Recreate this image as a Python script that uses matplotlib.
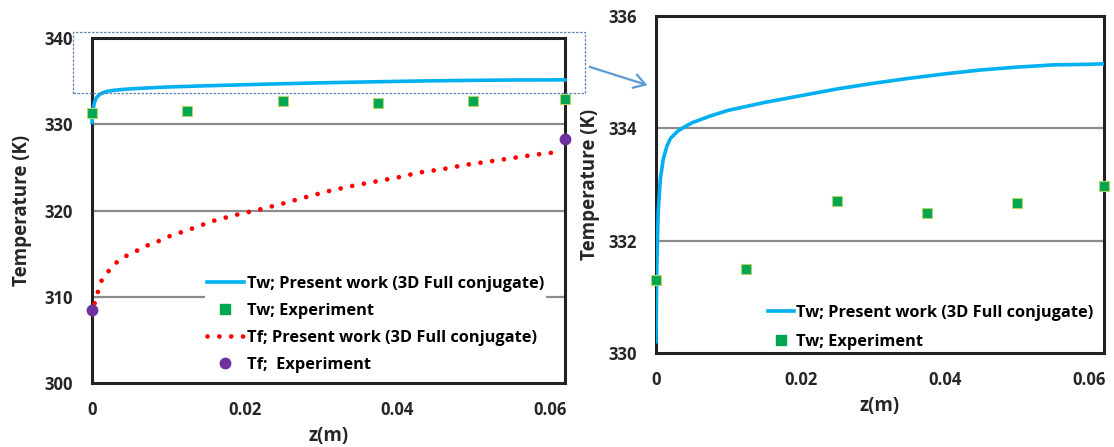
import matplotlib
matplotlib.use("Agg")
import matplotlib.pyplot as plt
from matplotlib.patches import Rectangle, FancyArrowPatch
from matplotlib.lines import Line2D

FONT = ['Open Sans', 'DejaVu Sans']
plt.rcParams['font.family'] = FONT
plt.rcParams['font.weight'] = 'bold'

# ---- data ----
z_tw = [0, 0.0001, 0.0003, 0.0006, 0.001, 0.0015, 0.002, 0.003, 0.004, 0.005,
        0.0075, 0.01, 0.015, 0.02, 0.025, 0.03, 0.035, 0.04, 0.045, 0.05,
        0.055, 0.06, 0.062]
tw_model = [330.2, 331.5, 332.5, 333.1, 333.45, 333.68, 333.82, 333.95, 334.03, 334.1,
            334.22, 334.32, 334.46, 334.58, 334.7, 334.8, 334.89, 334.97, 335.04, 335.09,
            335.13, 335.14, 335.15]

z_tf = [0, 0.00035, 0.00075, 0.0012, 0.0021, 0.0031, 0.0044, 0.0058, 0.0071, 0.0086,
        0.0101, 0.0131, 0.0159, 0.0189, 0.0219, 0.0250, 0.0278, 0.0308, 0.0338, 0.0368,
        0.0399, 0.0429, 0.0460, 0.0490, 0.0522, 0.0552, 0.0583, 0.0613]
tf_model = [307.9, 309.3, 310.5, 311.8, 312.9, 313.9, 314.7, 315.3, 315.9, 316.4,
            317.0, 317.9, 318.8, 319.5, 320.1, 320.8, 321.5, 322.2, 322.8, 323.3,
            323.8, 324.4, 324.8, 325.3, 325.7, 326.1, 326.5, 326.8]

z_exp = [0, 0.0125, 0.025, 0.0375, 0.05, 0.062]
tw_exp = [331.3, 331.5, 332.71, 332.5, 332.67, 332.98]

z_tf_exp = [0, 0.062]
tf_exp = [308.5, 328.3]

lab_tw_model = "Tw; Present work (3D Full conjugate)"
lab_tw_exp = "Tw; Experiment"
lab_tf_model = "Tf; Present work (3D Full conjugate)"
lab_tf_exp = "Tf;  Experiment"

xticks = [0, 0.02, 0.04, 0.06]
xticklabels = ["0", "0.02", "0.04", "0.06"]
left_yticks = [300, 310, 320, 330, 340]
right_yticks = [330, 332, 334, 336]

# ---- style ----
BLUE = '#00B0F0'
GREEN = '#00A651'
GREEN_EDGE = '#B5D56A'
RED = '#FF0000'
PURPLE = '#7030A0'
TXT = '#262626'
W, H = 1114, 447
FS = 12
LFS = 11.8

fig = plt.figure(figsize=(W / 100, H / 100), dpi=100)

def px(x0, y0, x1, y1):
    return [x0 / W, 1 - y1 / H, (x1 - x0) / W, (y1 - y0) / H]

axL = fig.add_axes(px(92, 38, 565, 383))
axR = fig.add_axes(px(656, 16, 1104, 353))

def style(ax, yticks):
    ax.set_xlim(0, 0.062)
    ax.set_ylim(yticks[0], yticks[-1])
    ax.set_xticks(xticks)
    ax.set_xticklabels(xticklabels)
    ax.set_yticks(yticks)
    ax.tick_params(length=0, labelsize=FS, pad=14)
    ax.tick_params(axis='x', pad=13)
    for lab in ax.get_xticklabels() + ax.get_yticklabels():
        lab.set_fontweight('bold')
        lab.set_color(TXT)
    for s in ax.spines.values():
        s.set_linewidth(2.2)
        s.set_color('#222222')
    for y in yticks[1:-1]:
        ax.axhline(y, color='#8c8c8c', lw=1.6, zorder=0.5)
    ax.set_xlabel('z(m)', fontsize=13.5, fontweight='bold', color=TXT)
    ax.set_ylabel('Temperature (K)', fontsize=13.5, fontweight='bold', color=TXT)

style(axL, left_yticks)
style(axR, right_yticks)
axL.xaxis.labelpad = 5
axR.xaxis.labelpad = 5
axL.yaxis.labelpad = 9
axR.yaxis.labelpad = 6

# left panel
axL.plot(z_tw, tw_model, color=BLUE, lw=2.6, zorder=3, clip_on=False)
axL.plot(z_tf, tf_model, color=RED, lw=3.4, linestyle=(0, (0.01, 2.5)),
         dash_capstyle='round', zorder=3)
axL.plot(z_exp, tw_exp, 's', color=GREEN, mec=GREEN_EDGE, mew=0.8, ms=7.5,
         zorder=4, clip_on=False)
axL.plot(z_tf_exp, tf_exp, 'o', color=PURPLE, ms=7.5, zorder=4, clip_on=False)

legprop = {'family': FONT, 'weight': 'bold', 'size': LFS}

handlesL = [
    Line2D([], [], color=BLUE, lw=2.6),
    Line2D([], [], ls='none', marker='s', color=GREEN, ms=7),
    Line2D([], [], color=RED, lw=3.4, linestyle=(0, (0.01, 2.5)), dash_capstyle='round'),
    Line2D([], [], ls='none', marker='o', color=PURPLE, ms=7.5),
]
legL = axL.legend(handlesL, [lab_tw_model, lab_tw_exp, lab_tf_model, lab_tf_exp],
                  loc='upper left', bbox_to_anchor=(205 / W, 1 - 274 / H),
                  bbox_transform=fig.transFigure, frameon=True, fancybox=False,
                  edgecolor='none', facecolor='white', framealpha=1,
                  prop=legprop,
                  handlelength=2.3, handletextpad=0.15, labelspacing=0.68,
                  borderpad=0.1, borderaxespad=0)
legL.set_zorder(2)

# right panel
axR.plot(z_tw, tw_model, color=BLUE, lw=2.6, zorder=3)
axR.plot(z_exp, tw_exp, 's', color=GREEN, mec=GREEN_EDGE, mew=0.8, ms=7.5,
         zorder=4, clip_on=False)
handlesR = [
    Line2D([], [], color=BLUE, lw=2.6),
    Line2D([], [], ls='none', marker='s', color=GREEN, ms=7),
]
legR = axR.legend(handlesR, [lab_tw_model, lab_tw_exp],
                  loc='upper left', bbox_to_anchor=(766 / W, 1 - 303 / H),
                  bbox_transform=fig.transFigure, frameon=True, fancybox=False,
                  edgecolor='none', facecolor='white', framealpha=1,
                  prop=legprop,
                  handlelength=1.6, handletextpad=0.15, labelspacing=0.8,
                  borderpad=0.1, borderaxespad=0)

# dashed zoom box and arrow (figure pixels)
box = Rectangle((73 / W, 1 - 93 / H), (585 - 73) / W, (93 - 32) / H,
                transform=fig.transFigure, fill=False, edgecolor='#5B86B8',
                lw=0.9, linestyle=(0, (2, 1.2)), zorder=10)
fig.add_artist(box)
arrow = FancyArrowPatch((587 / W, 1 - 66 / H), (650 / W, 1 - 86 / H),
                        transform=fig.transFigure, arrowstyle='->,head_length=8,head_width=5',
                        color='#5B9BD5', lw=1.6, zorder=10)
fig.add_artist(arrow)

fig.savefig('out.png', dpi=100, facecolor='white')
